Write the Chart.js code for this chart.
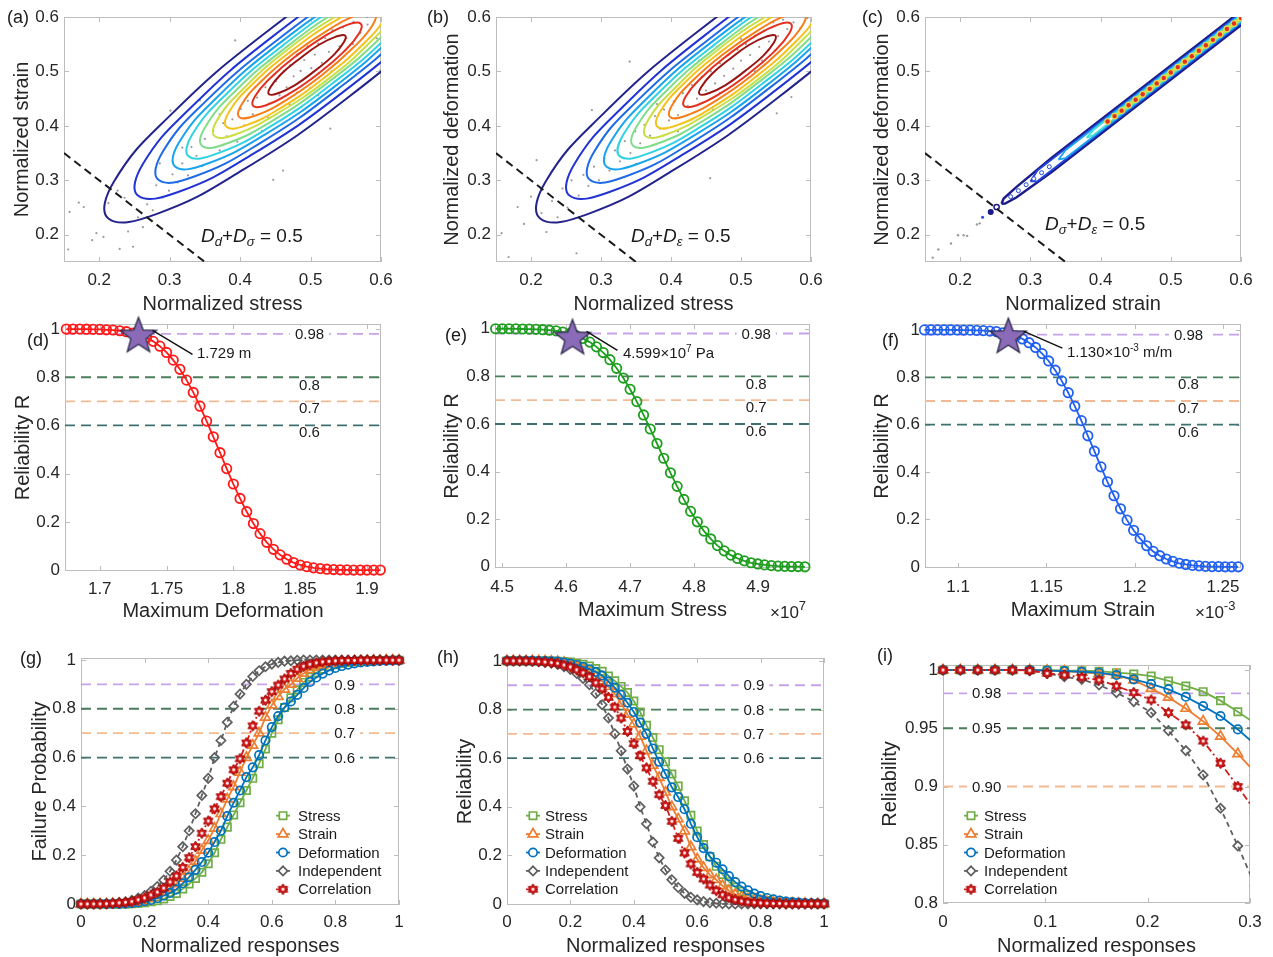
<!DOCTYPE html>
<html>
<head>
<meta charset="utf-8">
<title>Reliability analysis figure</title>
<script src="https://cdn.jsdelivr.net/npm/chart.js@4.4.1/dist/chart.umd.min.js"></script>
<style>
  html, body { margin: 0; padding: 0; background: #fff; }
  body { position: relative; width: 1273px; height: 957px; overflow: hidden;
         font-family: "Liberation Sans", Arial, sans-serif; color: #1a1a1a; }
  canvas { position: absolute; }
  .txt { position: absolute; white-space: nowrap; line-height: 1; z-index: 5; }
  .lbl { font-size: 18px; }
  .eq { font-size: 19px; }
  .eq sub { font-size: 13px; vertical-align: -4px; line-height: 0; }
  .ann { font-size: 15px; }
  .ann sup { font-size: 10px; vertical-align: 6px; line-height: 0; }
  .mult { font-size: 17px; color: #262626; }
  .mult sup { font-size: 13px; vertical-align: 8px; line-height: 0; }
</style>
</head>
<body>
<div class="txt lbl" style="left:7px;top:8px">(a)</div>
<div class="txt lbl" style="left:427px;top:8px">(b)</div>
<div class="txt lbl" style="left:862px;top:8px">(c)</div>
<div class="txt lbl" style="left:27px;top:331px">(d)</div>
<div class="txt lbl" style="left:445px;top:326px">(e)</div>
<div class="txt lbl" style="left:882px;top:331px">(f)</div>
<div class="txt lbl" style="left:20px;top:649px">(g)</div>
<div class="txt lbl" style="left:437px;top:648px">(h)</div>
<div class="txt lbl" style="left:877px;top:646px">(i)</div>

<div class="txt eq" style="left:201px;top:226px"><i>D</i><sub><i>d</i></sub>+<i>D</i><sub><i>σ</i></sub> = 0.5</div>
<div class="txt eq" style="left:631px;top:226px"><i>D</i><sub><i>d</i></sub>+<i>D</i><sub><i>ε</i></sub> = 0.5</div>
<div class="txt eq" style="left:1045px;top:214px"><i>D</i><sub><i>σ</i></sub>+<i>D</i><sub><i>ε</i></sub> = 0.5</div>

<div class="txt ann" style="left:197px;top:345px">1.729 m</div>
<div class="txt ann" style="left:623px;top:345px">4.599×10<sup>7</sup> Pa</div>
<div class="txt ann" style="left:1067px;top:344px">1.130×10<sup>-3</sup> m/m</div>

<div class="txt mult" style="left:770px;top:604px">×10<sup>7</sup></div>
<div class="txt mult" style="left:1195px;top:604px">×10<sup>-3</sup></div>

<script>
const FONT = '"Liberation Sans", Arial, sans-serif';
const INK = '#262626';
const BOX = '#bdbdbd';

// ---------- (a)(b): joint density contours, outermost first ----------
const CONTOUR_COLORS = ['#23238c', '#2233d4', '#1f6ae6', '#18a4ee', '#31d2e2', '#82dc8c',
                        '#c9df45', '#f4c21c', '#f67d18', '#e3301f', '#9b1414'];
const CONTOUR_X = [
  [0.777,0.710,0.585,0.436,0.303,0.221,0.213,0.281,0.405,0.554,0.687,0.769],
  [0.735,0.677,0.571,0.445,0.332,0.262,0.255,0.313,0.419,0.546,0.659,0.728],
  [0.706,0.655,0.562,0.451,0.351,0.290,0.284,0.335,0.428,0.539,0.639,0.700],
  [0.683,0.638,0.555,0.456,0.367,0.313,0.308,0.352,0.435,0.535,0.623,0.677],
  [0.663,0.623,0.548,0.460,0.381,0.332,0.327,0.367,0.442,0.530,0.610,0.658],
  [0.644,0.608,0.542,0.464,0.394,0.351,0.346,0.382,0.448,0.526,0.597,0.640],
  [0.626,0.595,0.537,0.467,0.406,0.368,0.364,0.395,0.453,0.523,0.585,0.622],
  [0.609,0.582,0.531,0.471,0.417,0.384,0.381,0.408,0.459,0.519,0.573,0.606],
  [0.591,0.568,0.526,0.475,0.430,0.402,0.399,0.422,0.465,0.515,0.560,0.588],
  [0.571,0.553,0.519,0.479,0.443,0.421,0.419,0.437,0.471,0.511,0.547,0.569],
  [0.549,0.536,0.512,0.484,0.458,0.443,0.441,0.454,0.478,0.506,0.532,0.547]
];
const CONTOUR_Y = [
  [0.794,0.786,0.704,0.571,0.422,0.298,0.230,0.238,0.320,0.453,0.602,0.727],
  [0.752,0.745,0.676,0.563,0.436,0.330,0.272,0.279,0.349,0.462,0.588,0.694],
  [0.723,0.717,0.656,0.556,0.445,0.352,0.301,0.307,0.368,0.468,0.579,0.672],
  [0.700,0.694,0.640,0.552,0.452,0.369,0.325,0.330,0.384,0.473,0.572,0.655],
  [0.680,0.675,0.627,0.547,0.459,0.384,0.344,0.349,0.398,0.477,0.565,0.640],
  [0.661,0.657,0.614,0.543,0.465,0.399,0.363,0.368,0.411,0.481,0.559,0.625],
  [0.643,0.639,0.602,0.540,0.470,0.412,0.381,0.385,0.423,0.484,0.554,0.612],
  [0.626,0.623,0.590,0.536,0.476,0.425,0.398,0.401,0.434,0.488,0.548,0.599],
  [0.608,0.605,0.577,0.532,0.482,0.439,0.416,0.419,0.447,0.492,0.543,0.585],
  [0.588,0.586,0.564,0.528,0.488,0.454,0.436,0.438,0.460,0.496,0.536,0.570],
  [0.566,0.564,0.549,0.523,0.495,0.471,0.458,0.460,0.475,0.501,0.529,0.553]
];
const A_DOT_X = [0.156,0.158,0.171,0.178,0.19,0.196,0.206,0.213,0.229,0.241,0.248,0.236,0.255,0.262,0.268,0.276,0.281,0.29,0.299,0.304,0.311,0.318,0.326,0.331,0.338,0.346,0.35,0.356,0.362,0.371,0.376,0.381,0.389,0.396,0.401,0.406,0.411,0.418,0.424,0.431,0.436,0.441,0.447,0.451,0.456,0.461,0.462,0.466,0.471,0.476,0.481,0.486,0.491,0.496,0.501,0.506,0.511,0.516,0.521,0.526,0.528,0.531,0.541,0.546,0.551,0.561,0.571,0.581,0.599,0.594,0.393,0.343,0.301,0.511,0.481,0.421,0.371,0.286,0.226,0.318,0.5,0.53,0.47,0.44,0.56,0.58];
const A_DOT_Y = [0.173,0.242,0.259,0.251,0.19,0.203,0.196,0.258,0.174,0.206,0.178,0.268,0.232,0.214,0.256,0.245,0.291,0.268,0.281,0.311,0.296,0.331,0.309,0.361,0.345,0.326,0.376,0.359,0.391,0.355,0.405,0.381,0.412,0.371,0.431,0.401,0.446,0.421,0.452,0.391,0.471,0.441,0.301,0.482,0.456,0.318,0.501,0.471,0.511,0.491,0.531,0.501,0.521,0.546,0.506,0.531,0.551,0.516,0.561,0.536,0.395,0.576,0.546,0.581,0.561,0.591,0.571,0.586,0.502,0.561,0.557,0.447,0.428,0.456,0.461,0.471,0.421,0.331,0.281,0.36,0.47,0.5,0.44,0.415,0.55,0.6];
const B_DOT_X = [0.158,0.168,0.181,0.19,0.208,0.2,0.215,0.222,0.23,0.238,0.245,0.252,0.258,0.265,0.268,0.275,0.282,0.287,0.29,0.297,0.305,0.312,0.32,0.327,0.334,0.341,0.342,0.349,0.356,0.362,0.37,0.377,0.384,0.39,0.397,0.404,0.41,0.417,0.424,0.43,0.437,0.444,0.45,0.456,0.457,0.463,0.47,0.476,0.482,0.489,0.495,0.5,0.507,0.513,0.52,0.526,0.533,0.54,0.546,0.551,0.553,0.56,0.566,0.572,0.575,0.585,0.595,0.44,0.47,0.52,0.41,0.38,0.35,0.5,0.53,0.46];
const B_DOT_Y = [0.203,0.159,0.251,0.22,0.337,0.27,0.24,0.205,0.262,0.232,0.285,0.25,0.3,0.166,0.272,0.31,0.29,0.429,0.325,0.3,0.34,0.318,0.355,0.335,0.372,0.518,0.35,0.39,0.368,0.402,0.382,0.418,0.395,0.43,0.41,0.445,0.42,0.46,0.437,0.475,0.45,0.49,0.465,0.304,0.5,0.478,0.515,0.492,0.53,0.505,0.54,0.52,0.55,0.53,0.565,0.545,0.575,0.555,0.59,0.423,0.565,0.595,0.578,0.453,0.59,0.58,0.598,0.52,0.46,0.5,0.39,0.44,0.33,0.56,0.52,0.43];

// ---------- (c): strain vs deformation, very narrow band ----------
const C_BAND_COLORS = ['#1b1b8a', '#2246dc', '#1aa6ee', '#46e0d2', '#c8e046'];
const C_BAND_X = [
  [0.259,0.264,0.280,0.330,0.450,0.570,0.680,0.680,0.570,0.450,0.330,0.280,0.262,0.259],
  [0.300,0.310,0.450,0.570,0.680,0.680,0.570,0.450,0.310,0.300],
  [0.340,0.350,0.450,0.570,0.680,0.680,0.570,0.450,0.350,0.340],
  [0.380,0.390,0.570,0.680,0.680,0.570,0.390,0.380],
  [0.420,0.430,0.680,0.680,0.430,0.420]
];
const C_BAND_Y = [
  [0.257,0.2575,0.2685,0.315,0.435,0.555,0.665,0.691,0.581,0.461,0.341,0.2875,0.2665,0.257],
  [0.298,0.2982,0.4382,0.5582,0.6682,0.6878,0.5778,0.4578,0.3178,0.298],
  [0.338,0.3408,0.4408,0.5608,0.6708,0.6852,0.5752,0.4552,0.3552,0.338],
  [0.378,0.3832,0.5632,0.6732,0.6828,0.5728,0.3928,0.378],
  [0.418,0.4258,0.6758,0.6802,0.4302,0.418]
];
const C_CORE_X = [0.41,0.42,0.43,0.44,0.45,0.46,0.47,0.48,0.49,0.50,0.51,0.52,0.53,0.54,0.55,0.56,0.57,0.58,0.59,0.60];
const C_CORE_Y = [0.408,0.418,0.428,0.438,0.448,0.458,0.468,0.478,0.488,0.498,0.508,0.518,0.528,0.538,0.548,0.558,0.568,0.578,0.588,0.598];
const C_HOLLOW_X = [0.272,0.283,0.294,0.305,0.316,0.327];
const C_HOLLOW_Y = [0.270,0.281,0.292,0.303,0.314,0.325];
const C_BLUE_X = [0.232,0.2436,0.252];
const C_BLUE_Y = [0.232,0.242,0.251];
const C_GREY_X = [0.161,0.169,0.187,0.197,0.205,0.21,0.224,0.228];
const C_GREY_Y = [0.158,0.173,0.184,0.199,0.199,0.198,0.219,0.221];
const LIMIT_X = [0.15, 0.35];
const LIMIT_Y = [0.35, 0.15];

// ---------- (d)(e)(f): single-response reliability ----------
const DEF_X = [1.675,1.68,1.685,1.69,1.695,1.7,1.705,1.71,1.715,1.72,1.725,1.73,1.735,1.74,1.745,1.75,1.755,1.76,1.765,1.77,1.775,1.78,1.785,1.79,1.795,1.8,1.805,1.81,1.815,1.82,1.825,1.83,1.835,1.84,1.845,1.85,1.855,1.86,1.865,1.87,1.875,1.88,1.885,1.89,1.895,1.9,1.905,1.91];
const DEF_R = [1,1,1,0.9995,0.999,0.9985,0.997,0.996,0.993,0.989,0.983,0.976,0.964,0.949,0.929,0.903,0.871,0.833,0.788,0.737,0.68,0.618,0.553,0.487,0.421,0.357,0.297,0.242,0.193,0.151,0.115,0.086,0.063,0.045,0.031,0.021,0.014,0.009,0.006,0.0035,0.002,0.001,0.0005,0,0,0,0,0];
const STR_X = [4.49,4.5005,4.511,4.5215,4.532,4.5425,4.553,4.5635,4.574,4.5845,4.595,4.6055,4.616,4.6265,4.637,4.6475,4.658,4.6685,4.679,4.6895,4.7,4.7105,4.721,4.7315,4.742,4.7525,4.763,4.7735,4.784,4.7945,4.805,4.8155,4.826,4.8365,4.847,4.8575,4.868,4.8785,4.889,4.8995,4.91,4.9205,4.931,4.9415,4.952,4.9625,4.973];
const STR_R = [1,1,1,0.9995,0.999,0.9986,0.9976,0.996,0.994,0.991,0.986,0.98,0.971,0.959,0.944,0.924,0.9,0.87,0.834,0.793,0.746,0.694,0.638,0.579,0.518,0.456,0.395,0.338,0.283,0.233,0.189,0.15,0.117,0.089,0.067,0.049,0.035,0.025,0.017,0.012,0.008,0.005,0.003,0.002,0.001,0.001,0];
const STN_X = [1.081,1.0847,1.0884,1.0921,1.0958,1.0995,1.1032,1.1069,1.1106,1.1143,1.118,1.1217,1.1254,1.1291,1.1328,1.1365,1.1402,1.1439,1.1476,1.1513,1.155,1.1587,1.1624,1.1661,1.1698,1.1735,1.1772,1.1809,1.1846,1.1883,1.192,1.1957,1.1994,1.2031,1.2068,1.2105,1.2142,1.2179,1.2216,1.2253,1.229,1.2327,1.2364,1.2401,1.2438,1.2475,1.2512,1.2549,1.2586];
const STN_R = [1,1,1,1,1,0.9997,0.9994,0.999,0.998,0.997,0.995,0.993,0.988,0.983,0.974,0.962,0.946,0.926,0.9,0.869,0.83,0.785,0.735,0.678,0.617,0.553,0.488,0.422,0.359,0.3,0.245,0.197,0.154,0.119,0.089,0.065,0.047,0.033,0.023,0.015,0.01,0.006,0.004,0.002,0.001,0.001,0,0,0];
const STAR_X = [1.729, 4.61, 1.1285];
const STAR_Y = [0.978, 0.968, 0.978];

// ---------- (g)(h)(i): combined responses ----------
const SERIES_NAMES = ['Stress', 'Strain', 'Deformation', 'Independent', 'Correlation'];
const NR_X = [0,0.02,0.04,0.06,0.08,0.1,0.12,0.14,0.16,0.18,0.2,0.22,0.24,0.26,0.28,0.3,0.32,0.34,0.36,0.38,0.4,0.42,0.44,0.46,0.48,0.5,0.52,0.54,0.56,0.58,0.6,0.62,0.64,0.66,0.68,0.7,0.72,0.74,0.76,0.78,0.8,0.82,0.84,0.86,0.88,0.9,0.92,0.94,0.96,0.98,1];
const G_STRESS = [0,0,0,0,0,0,0.0003,0.0007,0.0015,0.003,0.005,0.0094,0.014,0.021,0.031,0.043,0.062,0.082,0.105,0.13,0.165,0.21,0.265,0.315,0.365,0.415,0.465,0.515,0.575,0.635,0.7,0.755,0.805,0.845,0.878,0.908,0.93,0.948,0.962,0.972,0.98,0.986,0.99,0.993,0.995,0.996,0.997,0.998,0.998,0.999,0.999];
const G_STRAIN = [0,0,0,0.0001,0.0002,0.0005,0.001,0.002,0.0035,0.007,0.0145,0.0235,0.035,0.048,0.065,0.083,0.105,0.135,0.175,0.22,0.26,0.31,0.37,0.43,0.48,0.54,0.6,0.65,0.7,0.765,0.815,0.85,0.88,0.9,0.925,0.945,0.96,0.97,0.978,0.984,0.988,0.991,0.993,0.995,0.996,0.997,0.998,0.998,0.999,0.999,0.999];
const G_DEFORMATION = [0,0,0,0,0,0.0002,0.0005,0.0015,0.003,0.0066,0.0113,0.0166,0.024,0.034,0.045,0.06,0.085,0.11,0.14,0.172,0.21,0.254,0.3,0.36,0.415,0.465,0.52,0.56,0.61,0.67,0.725,0.77,0.805,0.83,0.857,0.885,0.91,0.928,0.944,0.957,0.967,0.975,0.981,0.986,0.99,0.992,0.994,0.996,0.997,0.998,0.998];
const G_INDEPENDENT = [0,0,0.0002,0.0005,0.001,0.0025,0.006,0.009,0.015,0.024,0.035,0.052,0.072,0.098,0.134,0.18,0.235,0.3,0.37,0.445,0.515,0.6,0.67,0.745,0.81,0.86,0.9,0.932,0.956,0.972,0.983,0.99,0.995,0.997,0.999,1,1,1,1,1,1,1,1,1,1,1,1,1,1,1,1];
const G_CORRELATION = [0,0,0.0001,0.0003,0.001,0.0027,0.0045,0.007,0.01,0.017,0.025,0.037,0.049,0.065,0.09,0.115,0.15,0.19,0.235,0.29,0.34,0.39,0.44,0.495,0.55,0.595,0.66,0.73,0.79,0.835,0.87,0.897,0.922,0.945,0.962,0.974,0.982,0.988,0.992,0.994,0.996,0.997,0.998,0.998,0.999,0.999,0.999,0.999,0.999,0.999,0.999];
const H_STRESS = [1,1,1,1,1,1,0.9997,0.9993,0.9985,0.997,0.995,0.9906,0.986,0.979,0.969,0.957,0.938,0.918,0.895,0.87,0.835,0.79,0.735,0.685,0.635,0.585,0.535,0.485,0.425,0.365,0.3,0.245,0.195,0.155,0.122,0.092,0.07,0.052,0.038,0.028,0.02,0.014,0.01,0.007,0.005,0.004,0.003,0.002,0.002,0.001,0.001];
const H_STRAIN = [1,1,1,0.9999,0.9998,0.9995,0.999,0.998,0.9965,0.993,0.9855,0.9765,0.965,0.952,0.935,0.917,0.895,0.865,0.825,0.78,0.74,0.69,0.63,0.57,0.52,0.46,0.4,0.35,0.3,0.235,0.185,0.15,0.12,0.1,0.075,0.055,0.04,0.03,0.022,0.016,0.012,0.009,0.007,0.005,0.004,0.003,0.002,0.002,0.001,0.001,0.001];
const H_DEFORMATION = [1,1,1,1,1,0.9998,0.9995,0.9985,0.997,0.9934,0.9887,0.9834,0.976,0.966,0.955,0.94,0.915,0.89,0.86,0.828,0.79,0.746,0.7,0.64,0.585,0.535,0.48,0.44,0.39,0.33,0.275,0.23,0.195,0.17,0.143,0.115,0.09,0.072,0.056,0.043,0.033,0.025,0.019,0.014,0.01,0.008,0.006,0.004,0.003,0.002,0.002];
const H_INDEPENDENT = [1,1,0.9998,0.9995,0.999,0.9975,0.994,0.991,0.985,0.976,0.965,0.948,0.928,0.902,0.866,0.82,0.765,0.7,0.63,0.555,0.485,0.4,0.33,0.255,0.19,0.14,0.1,0.068,0.044,0.028,0.017,0.01,0.005,0.003,0.001,0,0,0,0,0,0,0,0,0,0,0,0,0,0,0,0];
const H_CORRELATION = [1,1,0.9999,0.9997,0.999,0.9973,0.9955,0.993,0.99,0.983,0.975,0.963,0.951,0.935,0.91,0.885,0.85,0.81,0.765,0.71,0.66,0.61,0.56,0.505,0.45,0.405,0.34,0.27,0.21,0.165,0.13,0.103,0.078,0.055,0.038,0.026,0.018,0.012,0.008,0.006,0.004,0.003,0.002,0.002,0.001,0.001,0.001,0.001,0.001,0.001,0.001];
const I_X = [0,0.0169,0.0339,0.0508,0.0678,0.0847,0.1017,0.1186,0.1356,0.1525,0.1695,0.1864,0.2034,0.2203,0.2373,0.2542,0.2712,0.2881,0.3051];
const I_STRESS = [1,1,1,1,1,1,1,0.9995,0.9994,0.999,0.9977,0.9966,0.9948,0.9906,0.9863,0.9814,0.9737,0.9642,0.954];
const I_STRAIN = [1,1,1,1,1,1,0.9995,0.999,0.998,0.997,0.9957,0.9914,0.984,0.9765,0.967,0.956,0.943,0.928,0.912];
const I_DEFORMATION = [1,1,1,1,1,1,0.9995,0.999,0.9985,0.9977,0.9957,0.992,0.988,0.9834,0.977,0.969,0.9605,0.949,0.936];
const I_INDEPENDENT = [1,1,1,1,1,0.9995,0.9971,0.9943,0.992,0.9871,0.9806,0.9729,0.9634,0.948,0.9308,0.9099,0.8813,0.849,0.815];
const I_CORRELATION = [1,1,1,1,1,0.9995,0.9971,0.9957,0.9937,0.9914,0.9863,0.9806,0.9743,0.9634,0.953,0.939,0.92,0.9,0.879];

// threshold levels
const LEVELS_DEF = [0.98, 0.8, 0.7, 0.6];
const LEVELS_G = [0.9, 0.8, 0.7, 0.6];
const LEVELS_I = [0.98, 0.95, 0.9];

// ticks
const TICKS_NORM = [0.2, 0.3, 0.4, 0.5, 0.6];
const TICKS_R = [0, 0.2, 0.4, 0.6, 0.8, 1];
const TICKS_DEF = [1.7, 1.75, 1.8, 1.85, 1.9];
const TICKS_STR = [4.5, 4.6, 4.7, 4.8, 4.9];
const TICKS_STN = [1.1, 1.15, 1.2, 1.25];
const TICKS_I_X = [0, 0.1, 0.2, 0.3];
const TICKS_I_Y = [0.8, 0.85, 0.9, 0.95, 1];

// ---------- helpers ----------
const pts = (xs, ys) => xs.map((x, i) => ({x, y: ys[i]}));

function hexagram(color, r) {
  const c = document.createElement('canvas');
  const s = Math.ceil(2 * r + 4);
  c.width = c.height = s;
  const g = c.getContext('2d');
  const m = s / 2;
  g.beginPath();
  for (let i = 0; i < 12; i++) {
    const a = -Math.PI / 2 + i * Math.PI / 6;
    const rr = i % 2 ? r * 0.58 : r;
    g.lineTo(m + rr * Math.cos(a), m + rr * Math.sin(a));
  }
  g.closePath();
  g.fillStyle = color; g.fill();
  g.lineWidth = 1; g.strokeStyle = '#9e0000'; g.stroke();
  g.beginPath(); g.arc(m, m, r * 0.27, 0, Math.PI * 2);
  g.fillStyle = '#fff'; g.fill();
  return c;
}

function star5(r) {
  const c = document.createElement('canvas');
  const s = Math.ceil(2 * r + 4);
  c.width = c.height = s;
  const g = c.getContext('2d');
  const m = s / 2;
  g.beginPath();
  for (let i = 0; i < 10; i++) {
    const a = -Math.PI / 2 + i * Math.PI / 5;
    const rr = i % 2 ? r * 0.42 : r;
    g.lineTo(m + rr * Math.cos(a), m + 2 + rr * Math.sin(a));
  }
  g.closePath();
  g.fillStyle = '#8b6bb8'; g.fill();
  g.lineWidth = 1.3; g.strokeStyle = '#2a2a4a'; g.stroke();
  return c;
}

const HEX_IMG = hexagram('#d41c1c', 5.5);
const STAR_IMG = star5(19);

const SERIES_STYLE = [
  {color: '#70ad47', pointStyle: 'rect', radius: 5.2, dash: []},
  {color: '#ed7d31', pointStyle: 'triangle', radius: 5.6, dash: []},
  {color: '#0072bd', pointStyle: 'circle', radius: 4.2, dash: []},
  {color: '#5f5f5f', pointStyle: 'rectRot', radius: 4.6, dash: [5, 4]},
  {color: '#d41c1c', pointStyle: HEX_IMG, radius: 5, dash: [7, 3, 2, 3]}
];
const LEVEL_COLOR = {0.98: '#c8a2e8', 0.9: '#c8a2e8', 0.95: '#4a7d5c', 0.8: '#4a7d5c', 0.7: '#f3b993', 0.6: '#3f7070'};
const LEVEL_COLOR_I = {0.98: '#c8a2e8', 0.95: '#4a7d5c', 0.9: '#f3b993'};

function drawMarker(ctx, s, x, y) {
  if (typeof s.pointStyle === 'object') {
    ctx.drawImage(s.pointStyle, x - s.pointStyle.width / 2, y - s.pointStyle.height / 2);
    return;
  }
  const r = s.radius;
  ctx.save();
  ctx.setLineDash([]);
  ctx.strokeStyle = s.color; ctx.lineWidth = 1.7;
  ctx.beginPath();
  if (s.pointStyle === 'circle') ctx.arc(x, y, r, 0, Math.PI * 2);
  else if (s.pointStyle === 'rect') { const h = r / Math.SQRT2; ctx.rect(x - h, y - h, 2 * h, 2 * h); }
  else if (s.pointStyle === 'triangle') {
    for (let k = 0; k < 3; k++) { const a = k * 2 * Math.PI / 3; ctx.lineTo(x + Math.sin(a) * r, y - Math.cos(a) * r); }
    ctx.closePath();
  } else if (s.pointStyle === 'rectRot') {
    ctx.moveTo(x - r, y); ctx.lineTo(x, y - r); ctx.lineTo(x + r, y); ctx.lineTo(x, y + r); ctx.closePath();
  }
  ctx.fillStyle = '#fff'; ctx.fill(); ctx.stroke();
  ctx.restore();
}

function extras(spec, CL, CT) {
  return {
    id: 'extras',
    beforeDatasetsDraw(chart) {
      const {ctx, chartArea: a, scales: {x, y}} = chart;
      ctx.save();
      ctx.strokeStyle = BOX; ctx.lineWidth = 1;
      ctx.strokeRect(Math.round(a.left) + 0.5, Math.round(a.top) + 0.5, Math.round(a.width) - 1, Math.round(a.height) - 1);
      ctx.beginPath();
      x.ticks.forEach(t => {
        const p = Math.round(x.getPixelForValue(t.value)) + 0.5;
        ctx.moveTo(p, a.bottom); ctx.lineTo(p, a.bottom - 5);
        ctx.moveTo(p, a.top); ctx.lineTo(p, a.top + 5);
      });
      y.ticks.forEach(t => {
        const p = Math.round(y.getPixelForValue(t.value)) + 0.5;
        ctx.moveTo(a.left, p); ctx.lineTo(a.left + 5, p);
        ctx.moveTo(a.right, p); ctx.lineTo(a.right - 5, p);
      });
      ctx.stroke();
      ctx.restore();
    },
    afterDatasetsDraw(chart) {
      const {ctx, scales: {x, y}} = chart;
      ctx.save();
      (spec.levelLabels || []).forEach(l => {
        ctx.font = `${spec.levelFont || 15}px ${FONT}`;
        ctx.textAlign = 'center'; ctx.textBaseline = 'middle';
        const px = x.getPixelForValue(l.x), py = y.getPixelForValue(l.y);
        if (l.bg) {
          const w = ctx.measureText(l.text).width + 10;
          ctx.fillStyle = '#fff'; ctx.fillRect(px - w / 2, py - 8, w, 16);
        }
        ctx.fillStyle = '#1a1a1a';
        ctx.fillText(l.text, px, py + 1);
      });
      if (spec.pointer) {
        const p = spec.pointer;
        const sx = x.getPixelForValue(p.x), sy = y.getPixelForValue(p.y);
        ctx.strokeStyle = '#111'; ctx.lineWidth = 1.4;
        ctx.beginPath();
        ctx.moveTo(sx + p.from[0], sy + p.from[1]);
        ctx.lineTo(sx + p.to[0], sy + p.to[1]);
        ctx.stroke();
      }
      if (spec.legend) {
        const L = spec.legend;
        L.names.forEach((name, i) => {
          const s = SERIES_STYLE[i];
          const yy = L.y0 + i * 18.4 - CT, mx = L.mx - CL, tx = L.tx - CL;
          ctx.strokeStyle = s.color; ctx.lineWidth = 1.8; ctx.setLineDash(s.dash);
          ctx.beginPath(); ctx.moveTo(mx - 7, yy); ctx.lineTo(mx + 7, yy); ctx.stroke();
          ctx.setLineDash([]);
          drawMarker(ctx, s, mx, yy);
          ctx.fillStyle = '#1a1a1a'; ctx.font = `15px ${FONT}`;
          ctx.textAlign = 'left'; ctx.textBaseline = 'middle';
          ctx.fillText(name, tx, yy + 1);
        });
      }
      ctx.restore();
    }
  };
}

function buildChart(g, datasets, sx, sy, spec) {
  const CL = g.yTitleX - 12, CT = g.T - 14, CB = g.xTitleY + 12, CR = g.R + 20;
  const cv = document.createElement('canvas');
  cv.width = CR - CL; cv.height = CB - CT;
  cv.style.left = CL + 'px'; cv.style.top = CT + 'px';
  cv.style.width = (CR - CL) + 'px'; cv.style.height = (CB - CT) + 'px';
  document.body.appendChild(cv);
  const axisW = g.L - CL, axisH = CB - g.B;
  const tickFont = {family: FONT, size: 17};
  const titleFont = {family: FONT, size: 20};
  const mkScale = (s, horizontal) => ({
    type: 'linear', min: s.min, max: s.max,
    grid: {display: false, drawTicks: false},
    border: {display: false},
    ticks: {font: tickFont, color: INK, autoSkip: false, maxRotation: 0,
            padding: horizontal ? g.xTickY - g.B - 10.2 : 5, callback: v => String(v)},
    title: {display: true, text: s.title, font: titleFont, color: INK, padding: 0},
    afterBuildTicks: sc => { sc.ticks = s.ticks.map(v => ({value: v})); },
    afterFit: sc => {
      if (horizontal) sc.height = axisH; else sc.width = axisW;
      sc.paddingLeft = sc.paddingRight = sc.paddingTop = sc.paddingBottom = 0;
    }
  });
  return new Chart(cv, {
    type: 'line',
    data: {datasets},
    options: {
      responsive: false, animation: false, devicePixelRatio: 1,
      layout: {padding: {left: 0, top: 14, right: 20, bottom: 0}},
      plugins: {legend: {display: false}, tooltip: {enabled: false}},
      events: [],
      scales: {x: mkScale(sx, true), y: mkScale(sy, false)}
    },
    plugins: [extras(spec, CL, CT)]
  });
}

// closed contour: wrap neighbours so the spline is smooth at the seam
function contourSet(xs, ys, color, width) {
  const p = pts(xs, ys);
  const n = p.length;
  const data = [p[n - 1], ...p, p[0], p[1]];
  const last = data.length - 2;
  return {
    data, borderColor: color, borderWidth: width, pointRadius: 0,
    tension: 0.45, capBezierPoints: false, order: 5,
    segment: {borderColor: c => (c.p0DataIndex === 0 || c.p0DataIndex === last) ? 'rgba(0,0,0,0)' : undefined}
  };
}
function dotSet(xs, ys, color, r, order, extra) {
  return Object.assign({data: pts(xs, ys), showLine: false, pointRadius: r, pointBackgroundColor: color,
                        pointBorderWidth: 0, borderColor: color, order}, extra || {});
}
function limitSet() {
  return {data: pts(LIMIT_X, LIMIT_Y), borderColor: '#1a1a1a', borderWidth: 2, borderDash: [8, 5],
          pointRadius: 0, order: 1};
}
function levelSet(v, xmin, xmax, color) {
  return {data: [{x: xmin, y: v}, {x: xmax, y: v}], borderColor: color, borderWidth: 1.8,
          borderDash: [10, 6], pointRadius: 0, order: 20, clip: 0};
}

// ---------- (a)(b) ----------
const geoA = {L: 64, T: 17, R: 381, B: 262, yTitleX: 22, xTitleY: 304, xTickY: 280};
const geoB = {L: 496, T: 17, R: 811, B: 262, yTitleX: 452, xTitleY: 304, xTickY: 280};
const geoC = {L: 925, T: 17, R: 1241, B: 262, yTitleX: 882, xTitleY: 304, xTickY: 280};

function densityPanel(geo, dotX, dotY, xTitle, yTitle) {
  const ds = [dotSet(dotX, dotY, '#9a9a9a', 1.1, 30)];
  CONTOUR_X.forEach((xs, i) => ds.push(contourSet(xs, CONTOUR_Y[i], CONTOUR_COLORS[i], 2)));
  ds.push(limitSet());
  buildChart(geo, ds,
    {min: 0.15, max: 0.6, ticks: TICKS_NORM, title: xTitle},
    {min: 0.15, max: 0.6, ticks: TICKS_NORM, title: yTitle}, {});
}
densityPanel(geoA, A_DOT_X, A_DOT_Y, 'Normalized stress', 'Normalized strain');
densityPanel(geoB, B_DOT_X, B_DOT_Y, 'Normalized stress', 'Normalized deformation');

// ---------- (c) ----------
(function () {
  const ds = [dotSet(C_GREY_X, C_GREY_Y, '#9a9a9a', 1.2, 30)];
  C_BAND_X.forEach((xs, i) => ds.push({data: pts(xs, C_BAND_Y[i]), borderColor: C_BAND_COLORS[i],
    borderWidth: i === 0 ? 2.4 : 1.8, pointRadius: 0, tension: 0, order: 8 - i}));
  ds.push(dotSet(C_CORE_X, C_CORE_Y, '#f0d64c', 3.4, 3));
  ds.push(dotSet(C_CORE_X, C_CORE_Y, '#e0321e', 2.2, 2));
  ds.push(dotSet(C_HOLLOW_X, C_HOLLOW_Y, '#ffffff', 2, 2, {pointBorderWidth: 1, pointBorderColor: '#2246dc'}));
  ds.push({data: pts(C_BLUE_X, C_BLUE_Y), showLine: false, pointRadius: [1.5, 3, 2.6],
           pointBackgroundColor: ['#2246dc', '#1b1b8a', '#ffffff'], pointBorderColor: '#1b1b8a',
           pointBorderWidth: [0, 0, 1.5], order: 2});
  ds.push(limitSet());
  buildChart(geoC, ds,
    {min: 0.15, max: 0.6, ticks: TICKS_NORM, title: 'Normalized strain'},
    {min: 0.15, max: 0.6, ticks: TICKS_NORM, title: 'Normalized deformation'}, {});
})();

// ---------- (d)(e)(f) ----------
function singlePanel(geo, xs, rs, color, xr, ticks, xTitle, starIdx, labelX, labelY, pointer) {
  const ds = LEVELS_DEF.map(v => levelSet(v, xr[0], xr[1], LEVEL_COLOR[v]));
  ds.push({data: pts(xs, rs), borderColor: color, borderWidth: 1.8, pointStyle: 'circle', pointRadius: 4.7,
           pointBorderColor: color, pointBorderWidth: 1.8, pointBackgroundColor: 'rgba(0,0,0,0)',
           tension: 0, order: 3, clip: 8});
  ds.push({data: [{x: STAR_X[starIdx], y: STAR_Y[starIdx]}], showLine: false, pointStyle: STAR_IMG,
           pointRadius: 10, order: 0, clip: false});
  const levelLabels = LEVELS_DEF.map((v, i) => ({x: labelX, y: labelY[i], text: String(v), bg: i === 0}));
  buildChart(geo, ds,
    {min: xr[0], max: xr[1], ticks, title: xTitle},
    {min: geo.yMin, max: geo.yMax, ticks: TICKS_R, title: 'Reliability R'},
    {levelLabels, levelFont: 15,
     pointer: {x: STAR_X[starIdx], y: STAR_Y[starIdx], from: pointer[0], to: pointer[1]}});
}
singlePanel({L: 65, T: 324, R: 381, B: 571, yTitleX: 23, xTitleY: 611, xTickY: 589, yMin: -0.004, yMax: 1.021},
  DEF_X, DEF_R, '#ff1a1a', [1.674, 1.9105], TICKS_DEF, 'Maximum Deformation', 0,
  1.857, [0.98, 0.77, 0.673, 0.574], [[14, -4], [54, 20]]);
singlePanel({L: 495, T: 324, R: 810, B: 568, yTitleX: 452, xTitleY: 610, xTickY: 587, yMin: -0.005, yMax: 1.02},
  STR_X, STR_R, '#1e9e1e', [4.489, 4.981], TICKS_STR, 'Maximum Stress', 1,
  4.897, [0.98, 0.769, 0.673, 0.571], [[14, -5], [45, 14]]);
singlePanel({L: 925, T: 324, R: 1241, B: 568, yTitleX: 882, xTitleY: 610, xTickY: 587, yMin: -0.005, yMax: 1.025},
  STN_X, STN_R, '#2160f0', [1.0813, 1.2602], TICKS_STN, 'Maximum Strain', 2,
  1.2305, [0.98, 0.772, 0.672, 0.571], [[15, -4], [54, 13]]);

// ---------- (g)(h)(i) ----------
function seriesSets(xs, arrays, clip) {
  return arrays.map((ys, i) => {
    const s = SERIES_STYLE[i];
    return {data: pts(xs, ys), borderColor: s.color, borderWidth: 1.8, borderDash: s.dash,
            pointStyle: s.pointStyle, pointRadius: s.radius, pointBorderColor: s.color,
            pointBorderWidth: 1.7, pointBackgroundColor: 'rgba(255,255,255,0)', tension: 0,
            order: 4 - i, clip};
  });
}
(function () {
  const geo = {L: 81, T: 658, R: 399, B: 905, yTitleX: 40, xTitleY: 946, xTickY: 922};
  const ds = LEVELS_G.map(v => levelSet(v, 0, 1, LEVEL_COLOR[v]))
    .concat(seriesSets(NR_X, [G_STRESS, G_STRAIN, G_DEFORMATION, G_INDEPENDENT, G_CORRELATION], 7));
  buildChart(geo, ds,
    {min: 0, max: 1, ticks: TICKS_R, title: 'Normalized responses'},
    {min: -0.004, max: 1.008, ticks: TICKS_R, title: 'Failure Probability'},
    {levelLabels: LEVELS_G.map(v => ({x: 0.829, y: v, text: String(v), bg: true})), levelFont: 15,
     legend: {names: SERIES_NAMES, y0: 815.7, mx: 283, tx: 298}});
})();
(function () {
  const geo = {L: 507, T: 658, R: 824, B: 905, yTitleX: 465, xTitleY: 946, xTickY: 922};
  const ds = LEVELS_G.map(v => levelSet(v, 0, 1, LEVEL_COLOR[v]))
    .concat(seriesSets(NR_X, [H_STRESS, H_STRAIN, H_DEFORMATION, H_INDEPENDENT, H_CORRELATION], 7));
  buildChart(geo, ds,
    {min: 0, max: 1, ticks: TICKS_R, title: 'Normalized responses'},
    {min: -0.004, max: 1.012, ticks: TICKS_R, title: 'Reliability'},
    {levelLabels: LEVELS_G.map(v => ({x: 0.779, y: v, text: String(v), bg: true})), levelFont: 15,
     legend: {names: SERIES_NAMES, y0: 815.7, mx: 533, tx: 545}});
})();
(function () {
  const geo = {L: 943, T: 665, R: 1250, B: 903, yTitleX: 890, xTitleY: 946, xTickY: 922};
  const ds = LEVELS_I.map(v => levelSet(v, 0, 0.3, LEVEL_COLOR_I[v]))
    .concat(seriesSets(I_X, [I_STRESS, I_STRAIN, I_DEFORMATION, I_INDEPENDENT, I_CORRELATION],
                       {left: 7, top: 7, right: 0, bottom: 0}));
  buildChart(geo, ds,
    {min: 0, max: 0.3, ticks: TICKS_I_X, title: 'Normalized responses'},
    {min: 0.8, max: 1.0043, ticks: TICKS_I_Y, title: 'Reliability'},
    {levelLabels: LEVELS_I.map(v => ({x: 0.0427, y: v, text: v.toFixed(2), bg: true})), levelFont: 15,
     legend: {names: SERIES_NAMES, y0: 815.7, mx: 971, tx: 984}});
})();
</script>
</body>
</html>
